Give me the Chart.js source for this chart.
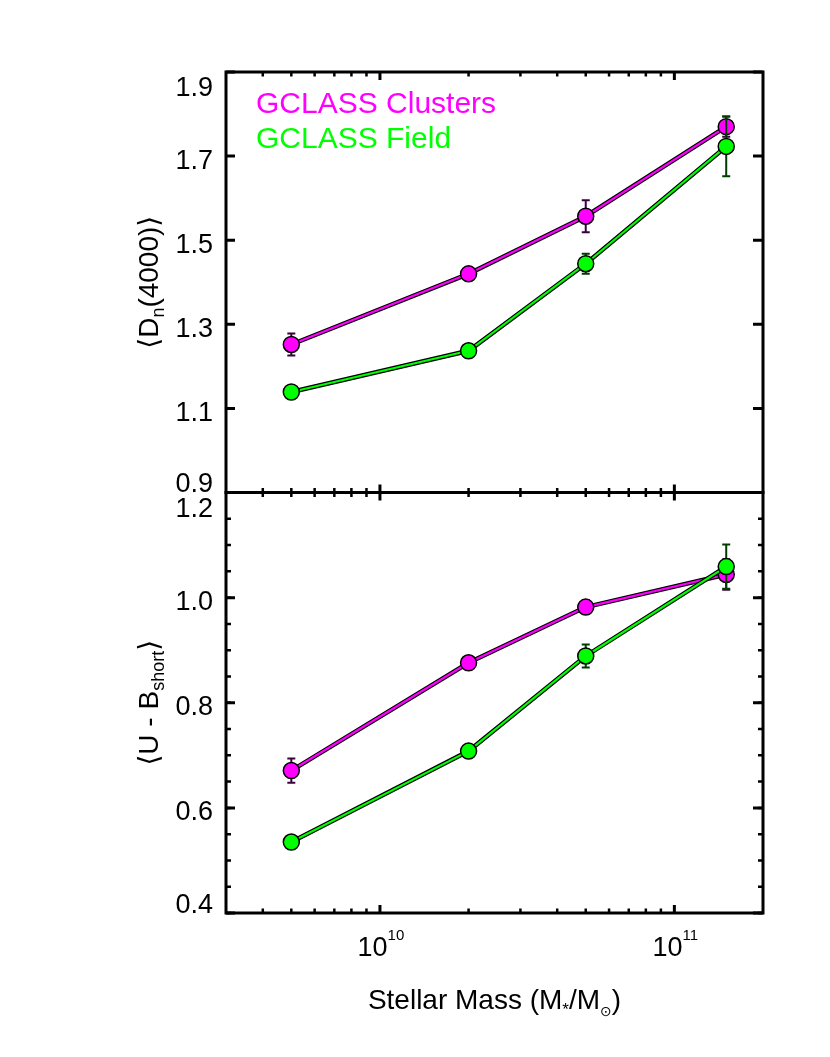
<!DOCTYPE html>
<html>
<head>
<meta charset="utf-8">
<script src="https://cdn.jsdelivr.net/npm/chart.js@4/dist/chart.umd.min.js"></script>
<style>
  html, body { margin: 0; padding: 0; background: #fff; }
  #wrap { width: 830px; height: 1057px; }
</style>
</head>
<body>
<div id="wrap"><canvas id="gclass" width="830" height="1057"></canvas></div>
<script>
// stellar mass bins (M*/Msun)
const masses = [5e9, 2e10, 5e10, 1.5e11];

// <Dn(4000)>
const dnClusters = [1.252, 1.420, 1.557, 1.770];
const dnClustersErr = [0.026, 0.006, 0.038, 0.024];
const dnField = [1.139, 1.237, 1.444, 1.723];
const dnFieldErr = [0.005, 0.007, 0.024, 0.071];

// <U - B_short>
const ubClusters = [0.671, 0.876, 0.982, 1.044];
const ubClustersErr = [0.023, 0.012, 0.013, 0.029];
const ubField = [0.535, 0.708, 0.889, 1.059];
const ubFieldErr = [0.005, 0.010, 0.022, 0.042];

const topTicks = [0.9, 1.1, 1.3, 1.5, 1.7, 1.9];
const bottomTicks = [0.4, 0.6, 0.8, 1.0, 1.2];
const bottomMinorStep = 0.05;
const xMajorTicks = [1e10, 1e11];
const xTickLabels = [['10', '10'], ['10', '11']];

const FONT = '"Liberation Sans", Helvetica, Arial, "DejaVu Sans", sans-serif';
const MAGENTA = '#ff00ff';
const GREEN = '#00ff00';

const pts = (ys) => masses.map((m, i) => ({ x: m, y: ys[i] }));

function series(ys, errs, color, errColor, axis, order) {
  return [
    { // black outline under the coloured line
      data: pts(ys), yAxisID: axis, order: order + 1,
      borderColor: '#000', borderWidth: 4.5, pointRadius: 0, tension: 0
    },
    {
      data: pts(ys), yAxisID: axis, order: order,
      errors: errs, errColor: errColor,
      borderColor: color, borderWidth: 2.2, tension: 0,
      pointRadius: 8, pointBackgroundColor: color,
      pointBorderColor: '#000', pointBorderWidth: 1.5
    }
  ];
}

const hiddenAxis = {
  ticks: { display: false },
  grid: { display: false, drawTicks: false },
  border: { display: false },
  title: { display: false }
};

// draws segments of text with sub/superscripts, centred on x
function runsWidth(ctx, runs) {
  let w = 0;
  runs.forEach(r => { ctx.font = r.size + 'px ' + FONT; w += ctx.measureText(r.t).width; });
  return w;
}
function drawRuns(ctx, runs, cx, y) {
  let x = cx - runsWidth(ctx, runs) / 2;
  runs.forEach(r => {
    ctx.font = r.size + 'px ' + FONT;
    ctx.fillText(r.t, x, y + (r.dy || 0));
    x += ctx.measureText(r.t).width;
  });
}

const errorBars = {
  id: 'errorBars',
  beforeDatasetDraw(chart, args) {
    const ds = chart.data.datasets[args.index];
    if (!ds.errors) return;
    const ctx = chart.ctx;
    const xs = chart.scales.x, ys = chart.scales[ds.yAxisID];
    ctx.save();
    ctx.strokeStyle = ds.errColor;
    ctx.lineWidth = 2;
    ds.data.forEach((p, i) => {
      const px = xs.getPixelForValue(p.x);
      const y0 = ys.getPixelForValue(p.y - ds.errors[i]);
      const y1 = ys.getPixelForValue(p.y + ds.errors[i]);
      ctx.beginPath();
      ctx.moveTo(px, y0); ctx.lineTo(px, y1);
      ctx.moveTo(px - 4, y0); ctx.lineTo(px + 4, y0);
      ctx.moveTo(px - 4, y1); ctx.lineTo(px + 4, y1);
      ctx.stroke();
    });
    ctx.restore();
  }
};

const frame = {
  id: 'frame',
  afterDraw(chart) {
    const ctx = chart.ctx;
    const a = chart.chartArea;
    const xs = chart.scales.x;
    const panels = [chart.scales.yTop, chart.scales.yBot];
    ctx.save();
    ctx.strokeStyle = '#000';
    ctx.fillStyle = '#000';
    ctx.lineCap = 'butt';

    panels.forEach((ys, pi) => {
      ctx.lineWidth = 3;
      ctx.strokeRect(a.left, ys.top, a.right - a.left, ys.bottom - ys.top);

      // x ticks on top and bottom of each panel
      for (let e = 9; e <= 11; e++) {
        for (let k = 1; k <= 9; k++) {
          const v = k * Math.pow(10, e);
          if (v <= xs.min || v >= xs.max) continue;
          const px = xs.getPixelForValue(v);
          const len = k === 1 ? 8 : 4.5;
          ctx.lineWidth = k === 1 ? 3 : 2.5;
          ctx.beginPath();
          ctx.moveTo(px, ys.top); ctx.lineTo(px, ys.top + len);
          ctx.moveTo(px, ys.bottom); ctx.lineTo(px, ys.bottom - len);
          ctx.stroke();
        }
      }

      // y ticks
      ctx.lineWidth = 3;
      ys.ticks.forEach(t => {
        const py = ys.getPixelForValue(t.value);
        ctx.beginPath();
        ctx.moveTo(a.left, py); ctx.lineTo(a.left + 9, py);
        ctx.moveTo(a.right, py); ctx.lineTo(a.right - 10, py);
        ctx.stroke();
      });
      if (pi === 1) {
        ctx.lineWidth = 2.5;
        for (let v = ys.min; v < ys.max - 1e-9; v += bottomMinorStep) {
          const py = ys.getPixelForValue(v);
          ctx.beginPath();
          ctx.moveTo(a.left, py); ctx.lineTo(a.left + 5, py);
          ctx.moveTo(a.right, py); ctx.lineTo(a.right - 5, py);
          ctx.stroke();
        }
      }

      // y tick labels
      ctx.font = '27px ' + FONT;
      ctx.textAlign = 'right';
      ctx.textBaseline = 'alphabetic';
      const n = ys.ticks.length;
      ys.ticks.forEach((t, i) => {
        const py = ys.getPixelForValue(t.value);
        let base = py + 12.5;
        if (i === 0) base = py - 0.5;
        if (i === n - 1) base = py + 24;
        ctx.fillText(t.value.toFixed(1), a.left - 13, base);
      });
    });

    // x tick labels (powers of ten)
    ctx.textAlign = 'left';
    const yb = chart.scales.yBot;
    xMajorTicks.forEach((v, i) => {
      const px = xs.getPixelForValue(v);
      drawRuns(ctx, [
        { t: xTickLabels[i][0], size: 27 },
        { t: xTickLabels[i][1], size: 15, dy: -16 }
      ], px + 1, yb.bottom + 43);
    });

    // x title
    drawRuns(ctx, [
      { t: 'Stellar Mass (M', size: 28 },
      { t: '*', size: 17, dy: 6 },
      { t: '/M', size: 28 },
      { t: '\u2299', size: 14, dy: 7 },
      { t: ')', size: 28 }
    ], (a.left + a.right) / 2, yb.bottom + 96);

    // y titles
    const yt = chart.scales.yTop;
    [[yt, [
      { t: '\u27E8D', size: 28 },
      { t: 'n', size: 18, dy: 6 },
      { t: '(4000)\u27E9', size: 28 }
    ]], [yb, [
      { t: '\u27E8U - B', size: 28 },
      { t: 'short', size: 18, dy: 6 },
      { t: '\u27E9', size: 28 }
    ]]].forEach(([ys, runs]) => {
      ctx.save();
      ctx.translate(158, (ys.top + ys.bottom) / 2);
      ctx.rotate(-Math.PI / 2);
      drawRuns(ctx, runs, 0, 0);
      ctx.restore();
    });

    // legend
    ctx.font = '30px ' + FONT;
    ctx.fillStyle = MAGENTA;
    ctx.fillText('GCLASS Clusters', a.left + 30, yt.top + 41);
    ctx.fillStyle = GREEN;
    ctx.fillText('GCLASS Field', a.left + 30, yt.top + 75.5);
    ctx.restore();
  }
};

new Chart(document.getElementById('gclass'), {
  type: 'line',
  data: {
    datasets: [
      ...series(dnClusters, dnClustersErr, MAGENTA, '#3c003c', 'yTop', 6),
      ...series(dnField, dnFieldErr, GREEN, '#003c00', 'yTop', 3),
      ...series(ubClusters, ubClustersErr, MAGENTA, '#3c003c', 'yBot', 6),
      ...series(ubField, ubFieldErr, GREEN, '#003c00', 'yBot', 3)
    ]
  },
  options: {
    responsive: false,
    animation: false,
    layout: { padding: { left: 226, right: 67, top: 72, bottom: 144 } },
    plugins: { legend: { display: false }, tooltip: { enabled: false } },
    scales: {
      x: { type: 'logarithmic', min: 3e9, max: 2e11, position: 'bottom', ...hiddenAxis },
      yTop: {
        type: 'linear', min: 0.9, max: 1.9, position: 'left',
        stack: 'panels', stackWeight: 1, weight: 1, ...hiddenAxis,
        afterBuildTicks: s => { s.ticks = topTicks.map(v => ({ value: v })); }
      },
      yBot: {
        type: 'linear', min: 0.4, max: 1.2, position: 'left',
        stack: 'panels', stackWeight: 1, weight: 0, ...hiddenAxis,
        afterBuildTicks: s => { s.ticks = bottomTicks.map(v => ({ value: v })); }
      }
    }
  },
  plugins: [errorBars, frame]
});
</script>
</body>
</html>
